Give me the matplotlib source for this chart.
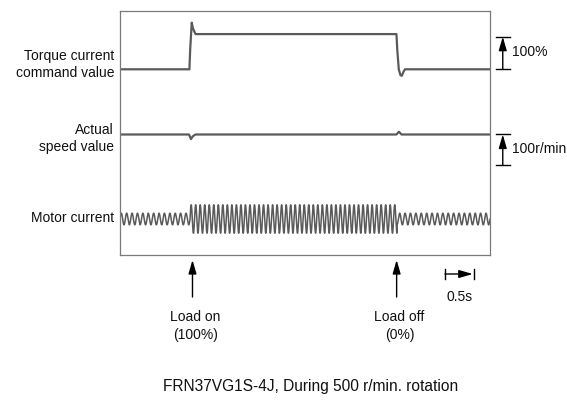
import numpy as np
import matplotlib
matplotlib.use("Agg")
import matplotlib.pyplot as plt

plt.rcParams['font.family'] = ['Liberation Sans', 'DejaVu Sans']

# time axis in seconds, frame spans 0 .. 6.38 s
t_end = 6.38

# torque current command value (%)
torque_t = [0.0, 1.197, 1.21, 1.237, 1.259, 1.302, 4.767, 4.781, 4.807, 4.836, 4.859, 4.888, 4.914, 6.38]
torque_pct = [0, 0, 60, 143, 125, 108, 108, 60, 0, -18, -20, -8, 0, 0]

# actual speed value, deviation from 500 r/min
speed_t = [0.0, 1.19, 1.224, 1.255, 1.30, 4.767, 4.81, 4.853, 6.38]
speed_dev = [0, 0, -15, -6, 0, 0, 9, 0, 0]

# motor current: segment edges (s), amplitude (div), period (s)
current_edges = [0.0, 1.207, 4.776, 6.38]
current_amp = [5.8, 14.2, 5.8]
current_period = [0.093, 0.078, 0.093]

load_events = [1.25, 4.77]
load_labels = ["Load on\n(100%)", "Load off\n(0%)"]

# trace offsets / gains in display divisions (1 div = 1 px)
torque_base, torque_gain = 185.7, 0.326
speed_base, speed_gain = 120.5, 0.307
current_base = 36.0

line_col = "#5a5a5a"

fig = plt.figure(figsize=(5.67, 4.03), dpi=100)
ax = fig.add_axes([120 / 567, 148 / 403, 370 / 567, 244 / 403])
ax.set_xlim(0, t_end)
ax.set_ylim(0, 244)
ax.set_xticks([])
ax.set_yticks([])
for s in ax.spines.values():
    s.set_color("#7a7a7a")
    s.set_linewidth(0.9)

# traces
ax.plot(torque_t, torque_base + np.array(torque_pct) * torque_gain, color=line_col, lw=1.6)
ax.plot(speed_t, speed_base + np.array(speed_dev) * speed_gain, color=line_col, lw=1.6)

# motor current built from segment amplitude / period
tt = np.linspace(0, t_end, 6000)
amp = np.zeros_like(tt)
per = np.zeros_like(tt)
for i in range(len(current_amp)):
    m = (tt >= current_edges[i]) & (tt <= current_edges[i + 1])
    amp[m] = current_amp[i]
    per[m] = current_period[i]
phase = np.cumsum(2 * np.pi / per * np.gradient(tt))
ax.plot(tt, current_base + amp * np.sin(phase), color=line_col, lw=1.1)

# left labels
lab = dict(ha="right", va="center", fontsize=10, color="#111111", linespacing=1.25, multialignment="right")
ax.text(-0.103, 190.3, "Torque current\ncommand value", **lab)
ax.text(-0.103, 116.7, "Actual\nspeed value", **lab)
ax.text(-0.103, 37, "Motor current", **lab)

# vertical scale bars on the right
bx, bx0, bx1 = 6.60, 6.483, 6.724
arr = dict(arrowstyle="-|>,head_length=0.55,head_width=0.16", mutation_scale=15, lw=1.0,
           color="black", shrinkA=0, shrinkB=0)
for lo, hi, txt in [(torque_base, torque_base + 100 * torque_gain, "100%"),
                    (speed_base - 100 * speed_gain, speed_base, "100r/min")]:
    ax.plot([bx0, bx1], [lo, lo], color="black", lw=1.0, clip_on=False)
    ax.plot([bx0, bx1], [hi, hi], color="black", lw=1.0, clip_on=False)
    ax.annotate("", xy=(bx, hi), xytext=(bx, lo), arrowprops=arr, annotation_clip=False)
    ax.text(6.76, (lo + hi) / 2 + 1, txt, ha="left", va="center", fontsize=10, color="#111111")

# load on / off arrows
for t, txt in zip(load_events, load_labels):
    ax.annotate("", xy=(t, -5), xytext=(t, -42), arrowprops=arr, annotation_clip=False)
    ax.text(t + 0.05, -71, txt, ha="center", va="center", fontsize=10, color="#111111", linespacing=1.45)

# 0.5 s time scale
ts0, ts1 = 5.603, 6.103
for x in (ts0, ts1):
    ax.plot([x, x], [-14, -24], color="black", lw=1.0, clip_on=False)
ax.annotate("", xy=(ts1 - 0.02, -19), xytext=(ts0, -19), arrowprops=arr, annotation_clip=False)
ax.text((ts0 + ts1) / 2, -42, "0.5s", ha="center", va="center", fontsize=10, color="#111111")

fig.text(311 / 567, 1 - 386 / 403, "FRN37VG1S-4J, During 500 r/min. rotation",
         ha="center", va="center", fontsize=11.2, color="#111111")

fig.savefig("out.png", dpi=100)
